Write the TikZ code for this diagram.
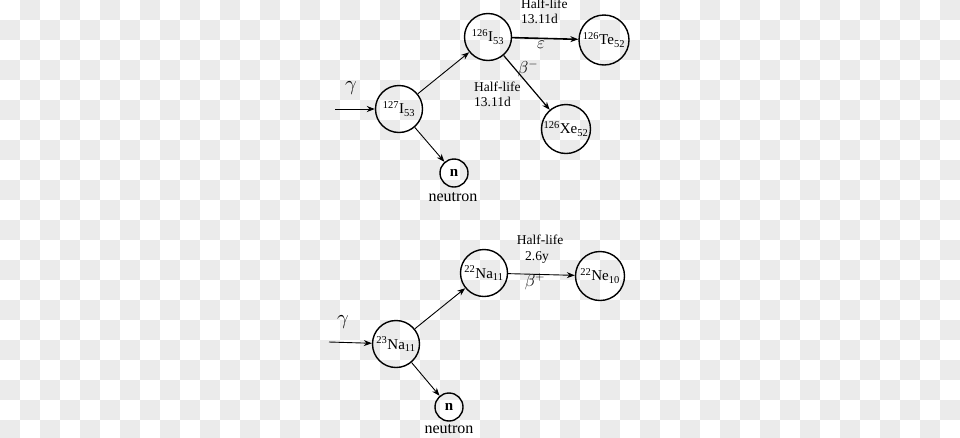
\documentclass[tikz,border=0pt]{standalone}
\usepackage{fontspec}
\setmainfont{Liberation Serif}
\usetikzlibrary{arrows.meta}
\definecolor{chk}{HTML}{EBEBEB}
\tikzset{
  nuc/.style={circle,draw,line width=1.4pt,inner sep=0pt,font=\fontsize{15}{17}\selectfont},
  neu/.style={circle,draw,line width=1.4pt,inner sep=0pt,minimum size=28pt,font=\fontsize{15}{17}\selectfont\bfseries},
  arr/.style={-{Stealth[length=8pt,width=6pt]},line width=0.9pt},
  lbl/.style={font=\fontsize{13.5}{15}\selectfont,inner sep=0pt},
  neut/.style={font=\fontsize{16}{18}\selectfont,inner sep=0pt},
  greek/.style={font=\fontsize{17}{19}\selectfont,inner sep=0pt},
  bigg/.style={font=\fontsize{21}{23}\selectfont,inner sep=0pt}
}
\begin{document}
\begin{tikzpicture}[x=1pt,y=-1pt]
\useasboundingbox (0,0) rectangle (960,437);
\fill[white] (0,0) rectangle (960,437);
\foreach \i in {0,...,47}{
  \foreach \j in {0,...,21}{
    \pgfmathtruncatemacro\p{mod(\i+\j,2)}
    \ifnum\p=1 \fill[chk] (\i*20,\j*20) rectangle ++(20,20);\fi
  }
}
% ---- upper reaction
\node[nuc,minimum size=47pt] (i127) at (399,109) {\textsuperscript{127}I\textsubscript{53}};
\node[nuc,minimum size=47pt] (i126) at (488,37) {\textsuperscript{126}I\textsubscript{53}};
\node[nuc,minimum size=50pt] (te) at (604,40) {\textsuperscript{126}Te\textsubscript{52}};
\node[nuc,minimum size=49pt] (xe) at (566,129) {\textsuperscript{126}Xe\textsubscript{52}};
\node[neu] (n1) at (454,173) {n};
\node[neut] (nt1) at (453,197) {neutron};
\coordinate (g1) at (335,109);
\node[bigg] (gam1) at (351,88) {$\gamma$};
\draw[arr] (g1) -- (i127);
\draw[arr] (i127) -- (i126);
\draw[arr] (i127) -- (n1);
\draw[arr,line width=1.6pt] (i126) -- (te);
\draw[arr,line width=1.2pt] (i126) -- (xe);
\node[lbl,align=left,anchor=north west] (hl1) at (521,-1) {Half-life\\13.11d};
\node[greek] (eps) at (541,45) {$\varepsilon$};
\node[greek] (bm) at (528,69) {$\beta^{-}$};
\node[lbl,align=left,anchor=north west] (hl2) at (474,82) {Half-life\\13.11d};
% ---- lower reaction
\node[nuc,minimum size=47pt] (na23) at (396,344) {\textsuperscript{23}Na\textsubscript{11}};
\node[nuc,minimum size=47pt] (na22) at (484,273) {\textsuperscript{22}Na\textsubscript{11}};
\node[nuc,minimum size=49pt] (ne) at (600,276) {\textsuperscript{22}Ne\textsubscript{10}};
\node[neu] (n2) at (449,407) {n};
\node[neut] (nt2) at (449,429) {neutron};
\coordinate (g2) at (329,342);
\node[bigg] (gam2) at (343,322) {$\gamma$};
\draw[arr] (g2) -- (na23);
\draw[arr] (na23) -- (na22);
\draw[arr] (na23) -- (n2);
\draw[arr] (na22) -- (ne);
\node[lbl] (hl3) at (540,240) {Half-life};
\node[lbl] (t3) at (537,257) {2.6y};
\node[greek] (bp) at (535,282) {$\beta^{+}$};
\end{tikzpicture}
\end{document}
